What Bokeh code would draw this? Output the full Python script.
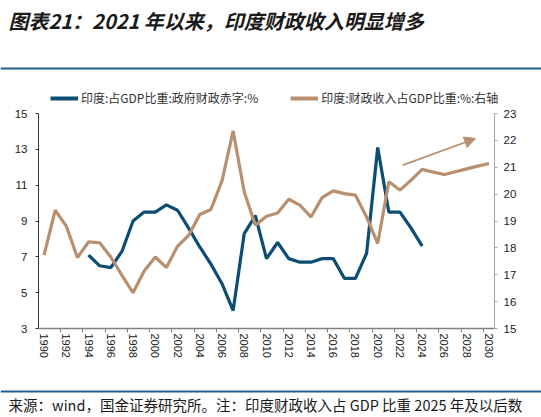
from bokeh.plotting import figure
from bokeh.models import (Range1d, LinearAxis, FixedTicker, Legend, LegendItem,
                          Span, Label, Arrow, NormalHead)
from bokeh.layouts import column
from bokeh.embed import file_html
from bokeh.resources import INLINE

# ---------------- data ----------------
years = list(range(1990, 2031))
deficit_years = list(range(1994, 2025))
deficit = [7.1, 6.5, 6.4, 7.3, 9.0, 9.5, 9.5, 9.9, 9.6, 8.6,
           7.55, 6.6, 5.5, 4.0, 8.3, 9.3, 6.9, 7.8, 6.9, 6.7,
           6.7, 6.9, 6.9, 5.8, 5.8, 7.2, 13.1, 9.5, 9.5, 8.6, 7.6]
revenue = [17.73, 19.4, 18.81, 17.64, 18.22, 18.19, 17.66, 16.98, 16.33, 17.14,
           17.66, 17.27, 18.06, 18.47, 19.24, 19.43, 20.49, 22.35, 20.08, 18.84,
           19.18, 19.3, 19.81, 19.59, 19.15, 19.87, 20.12, 20.02, 19.96, 19.15,
           18.16, 20.46, 20.15, 20.52, 20.92, 20.82, 20.73, 20.83, 20.94, 21.04,
           21.14]
left_ticks = [3, 5, 7, 9, 11, 13, 15]
right_ticks = [15, 16, 17, 18, 19, 20, 21, 22, 23]
x_label_years = list(range(1990, 2031, 2))
x_tick_marks = [y + 1.5 for y in range(1990, 2030, 2)]
arrow_start = (2022.26, 21.08)
arrow_end = (2028.8, 22.07)

series_names = ["印度:占GDP比重:政府财政赤字:%", "印度:财政收入占GDP比重:%:右轴"]
title_text = "图表21：2021 年以来，印度财政收入明显增多"
source_text = "来源：wind，国金证券研究所。注：印度财政收入占 GDP 比重 2025 年及以后数"

BLUE = "#0b4d73"
TAN = "#b88f6f"
RULE = "#23608c"
W = 541
CJK = "Noto Sans CJK SC"
NUM = "Liberation Sans"
NAN = float("nan")

# ---------------- header (title, rule, legend) ----------------
H1 = 107
hdr = figure(width=W, height=H1, x_range=Range1d(0, W), y_range=Range1d(0, H1),
             toolbar_location=None, output_backend="svg", min_border=0,
             x_axis_location=None, y_axis_location=None, frame_align=False)
hdr.grid.visible = False
hdr.outline_line_color = None
hdr.add_layout(Label(x=8, y=H1 - 20, text=title_text, text_font=CJK, text_font_size="20px",
                     text_font_style="bold italic", text_color="#1a1a1a",
                     text_baseline="middle"))
hdr.add_layout(Span(location=H1 - 68, dimension="width", line_color=RULE, line_width=2))
k1 = hdr.line([NAN], [NAN], line_color=BLUE, line_width=4)
k2 = hdr.line([NAN], [NAN], line_color=TAN, line_width=4)
legend = Legend(items=[LegendItem(label=series_names[0], renderers=[k1]),
                       LegendItem(label=series_names[1], renderers=[k2])],
                orientation="horizontal", location=(50, 1),
                padding=0, margin=0, spacing=32, label_standoff=3,
                glyph_width=28, glyph_height=14, label_height=14,
                label_text_font=CJK, label_text_font_size="12px",
                label_text_color="#333333",
                background_fill_alpha=0, border_line_color=None)
hdr.add_layout(legend, "center")

# ---------------- main ----------------
H2 = 273
p = figure(width=W, height=H2, x_range=Range1d(1989.5, 2030.5), y_range=Range1d(3, 15),
           toolbar_location=None, output_backend="svg", frame_align=False,
           min_border_left=38, min_border_right=47, min_border_top=6, min_border_bottom=52)
p.grid.visible = False
p.outline_line_color = None
p.extra_y_ranges = {"right": Range1d(15, 23)}

p.line(deficit_years, deficit, line_color=BLUE, line_width=3.2)
p.line(years, revenue, line_color=TAN, line_width=3.2, y_range_name="right")

p.add_layout(Arrow(x_start=arrow_start[0], y_start=arrow_start[1],
                   x_end=arrow_end[0], y_end=arrow_end[1], y_range_name="right",
                   line_color=TAN, line_width=1.8,
                   end=NormalHead(size=11, fill_color=TAN, line_color=TAN)))

xa = p.xaxis[0]
xa.ticker = FixedTicker(ticks=x_label_years, minor_ticks=x_tick_marks)
xa.major_label_orientation = "vertical"
xa.major_tick_line_color = None
xa.major_tick_out = 0
xa.major_tick_in = 0
xa.minor_tick_out = 4
xa.minor_tick_in = 0
xa.minor_tick_line_color = "#808080"
xa.axis_line_color = "#808080"
xa.axis_line_width = 1.5
xa.major_label_text_font = NUM
xa.major_label_text_font_size = "11px"
xa.major_label_text_color = "#222222"
xa.major_label_standoff = 1

ya = p.yaxis[0]
ya.ticker = FixedTicker(ticks=left_ticks)
ya.axis_line_color = "#333333"
ya.major_tick_line_color = "#333333"
ya.major_tick_out = 3
ya.major_tick_in = 0
ya.minor_tick_line_color = None
ya.major_label_text_font = NUM
ya.major_label_text_font_size = "11.5px"
ya.major_label_text_color = "#222222"
ya.major_label_standoff = 8

yr = LinearAxis(y_range_name="right", ticker=FixedTicker(ticks=right_ticks))
yr.axis_line_color = "#a8a8a8"
yr.major_tick_line_color = "#a8a8a8"
yr.major_tick_out = 3
yr.major_tick_in = 0
yr.minor_tick_line_color = None
yr.major_label_text_font = NUM
yr.major_label_text_font_size = "11.5px"
yr.major_label_text_color = "#222222"
yr.major_label_standoff = 6
p.add_layout(yr, "right")

# ---------------- footer ----------------
H3 = 37
ftr = figure(width=W, height=H3, x_range=Range1d(0, W), y_range=Range1d(0, H3),
             toolbar_location=None, output_backend="svg", min_border=0,
             x_axis_location=None, y_axis_location=None, frame_align=False)
ftr.grid.visible = False
ftr.outline_line_color = None
ftr.add_layout(Span(location=26, dimension="width", line_color=RULE, line_width=2))
ftr.add_layout(Label(x=8, y=13, text=source_text, text_font=CJK, text_font_size="14.5px",
                     text_color="#1a1a1a", text_baseline="middle"))

layout = column(hdr, p, ftr, spacing=0)
open("out.html", "w").write(file_html(layout, INLINE))
